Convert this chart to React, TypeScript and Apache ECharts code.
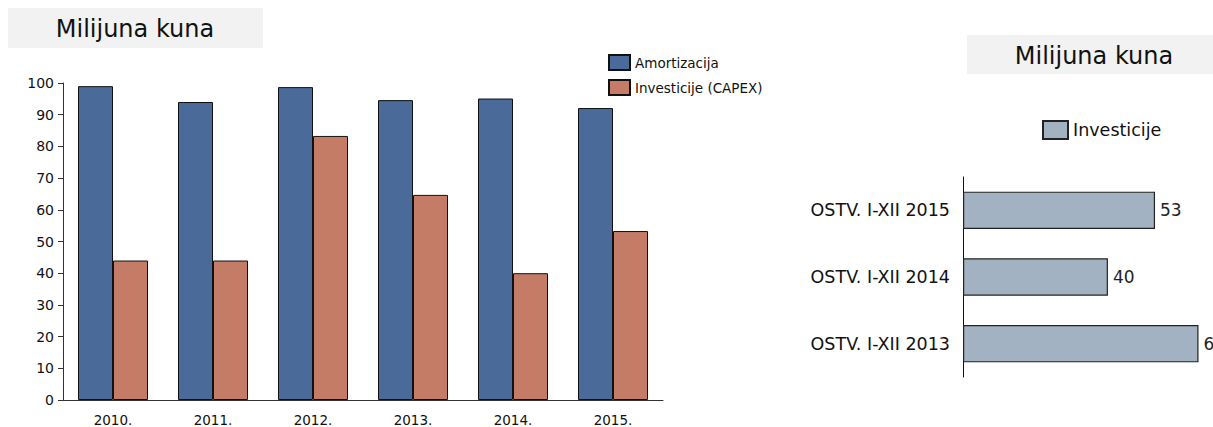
import React, { useEffect, useRef } from "react";
import * as echarts from "echarts";

const years = ["2010.", "2011.", "2012.", "2013.", "2014.", "2015."];
const amortizacija = [99, 94, 98.7, 94.6, 95.1, 92.1];
const capex = [44, 44, 83.3, 64.7, 40, 53.3];
const yTicks = { min: 0, max: 100, interval: 10 };

const rightCategories = ["OSTV. I-XII 2013", "OSTV. I-XII 2014", "OSTV. I-XII 2015"];
const investicije = [65, 40, 53];

const titleText = "Milijuna kuna";
const FONT = "DejaVu Sans, Verdana, sans-serif";

export default function App() {
  const ref = useRef<HTMLDivElement>(null);
  useEffect(() => {
    document.body.style.margin = "0";
    const chart = echarts.init(ref.current!, null, { renderer: "svg" });
    chart.setOption({
      animation: false,
      textStyle: { fontFamily: FONT },
      graphic: [
        { type: "rect", shape: { x: 8, y: 8, width: 255, height: 40 }, style: { fill: "#f2f2f2" } },
        { type: "text", x: 135, y: 29, style: { text: titleText, font: `24px ${FONT}`, fill: "#111", align: "center", verticalAlign: "middle" } },
        { type: "rect", shape: { x: 967, y: 35, width: 246, height: 39 }, style: { fill: "#f2f2f2" } },
        { type: "text", x: 1094, y: 56, style: { text: titleText, font: `24px ${FONT}`, fill: "#111", align: "center", verticalAlign: "middle" } },
      ],
      legend: [
        {
          orient: "vertical",
          left: 603,
          top: 49,
          icon: "rect",
          itemWidth: 21,
          itemHeight: 15,
          itemGap: 8,
          textStyle: { fontSize: 13.5, color: "#111", fontFamily: FONT },
          data: ["Amortizacija", "Investicije (CAPEX)"],
        },
        {
          left: 1037,
          top: 115,
          icon: "rect",
          itemWidth: 25,
          itemHeight: 18,
          itemGap: 6,
          textStyle: { fontSize: 17.5, color: "#111", fontFamily: FONT },
          data: ["Investicije"],
        },
      ],
      grid: [
        { left: 63, top: 83, width: 600, height: 317 },
        { left: 963, top: 177, right: 0, height: 200 },
      ],
      xAxis: [
        {
          type: "category",
          gridIndex: 0,
          data: years,
          axisLine: { lineStyle: { color: "#333" } },
          axisTick: { show: false },
          axisLabel: { fontSize: 13.5, color: "#111", margin: 13, fontFamily: FONT },
        },
        {
          type: "value",
          gridIndex: 1,
          min: 0,
          max: 69,
          show: false,
          splitLine: { show: false },
        },
      ],
      yAxis: [
        {
          type: "value",
          gridIndex: 0,
          min: yTicks.min,
          max: yTicks.max,
          interval: yTicks.interval,
          axisLine: { show: true, lineStyle: { color: "#333" } },
          axisTick: { show: true, length: 5, lineStyle: { color: "#333" } },
          splitLine: { show: false },
          axisLabel: { fontSize: 14, color: "#111", margin: 9, fontFamily: FONT },
        },
        {
          type: "category",
          gridIndex: 1,
          data: rightCategories,
          axisLine: { show: true, lineStyle: { color: "#111" } },
          axisTick: { show: false },
          axisLabel: { fontSize: 17.5, color: "#111", margin: 13, fontFamily: FONT },
        },
      ],
      series: [
        {
          name: "Amortizacija",
          type: "bar",
          xAxisIndex: 0,
          yAxisIndex: 0,
          data: amortizacija,
          barGap: "0%",
          barCategoryGap: "30%",
          itemStyle: { color: "#4A6A99", borderColor: "#111", borderWidth: 1 },
        },
        {
          name: "Investicije (CAPEX)",
          type: "bar",
          xAxisIndex: 0,
          yAxisIndex: 0,
          data: capex,
          barGap: "0%",
          barCategoryGap: "30%",
          itemStyle: { color: "#C47C67", borderColor: "#111", borderWidth: 1 },
        },
        {
          name: "Investicije",
          type: "bar",
          xAxisIndex: 1,
          yAxisIndex: 1,
          data: investicije,
          barCategoryGap: "44%",
          itemStyle: { color: "#A3B2C2", borderColor: "#222", borderWidth: 1.2 },
          label: { show: true, position: "right", distance: 5, fontSize: 17, color: "#222", fontFamily: FONT },
        },
      ],
    });
    return () => chart.dispose();
  }, []);
  return <div ref={ref} style={{ width: 1213, height: 427 }} />;
}
